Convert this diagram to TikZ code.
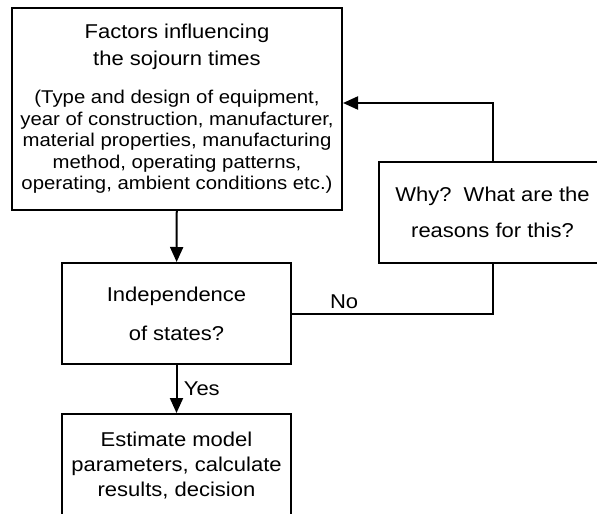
\documentclass[tikz,border=0pt]{standalone}
\usepackage{fontspec}
\setmainfont{Liberation Sans}[FakeStretch=1.1]
\usetikzlibrary{arrows.meta}
\begin{document}
\begin{tikzpicture}[x=1pt,y=-1pt]
			\tikzset{block/.style = {draw, line width=2pt, inner sep=0pt, align=center, font=\fontsize{20}{27}\selectfont}}
			\tikzset{edge/.style = {line width=2pt, ->, > = {Triangle[length=15pt,width=13pt]}}}
			\tikzset{tag/.style = {font=\fontsize{20}{24}\selectfont}}
			\newcommand{\detail}[1]{{\fontsize{18.5}{21.5}\selectfont #1}}
			\useasboundingbox (0,0) rectangle (597,514);
			\clip (0,0) rectangle (597,514);
			% Draw the boxes
			\node[block, minimum width=330pt, minimum height=202pt] (F) at (177,109)
				{Factors influencing\\the sojourn times\\[11pt]
				\detail{(Type and design of equipment,}\\[-5.5pt]
				\detail{year of construction, manufacturer,}\\[-5.5pt]
				\detail{material properties, manufacturing}\\[-5.5pt]
				\detail{method, operating patterns,}\\[-5.5pt]
				\detail{operating, ambient conditions etc.)}};
			\node[block, minimum width=229pt, minimum height=101pt] (I) at (176.5,313.5)
				{Independence\\[12pt]of states?};
			\node[block, minimum width=227pt, minimum height=101pt] (W) at (492.5,212.5)
				{Why?\ \ What are the\\[9pt]reasons for this?};
			\node[block, minimum width=229pt, minimum height=104pt] (E) at (176.5,466)
				{Estimate model\\[-2pt]parameters, calculate\\[-2pt]results, decision};
			% Draw the connectors
			\draw[edge] (F) -- (I);
			\draw[edge] (I) -- node[tag, right, xshift=3pt] {Yes} (E);
			\draw[line width=2pt] (I.east) -| node[tag, pos=0.13, above] {No} (W.south);
			\draw[edge] (W.north) |- ([yshift=6pt]F.east);
		\end{tikzpicture}
\end{document}
